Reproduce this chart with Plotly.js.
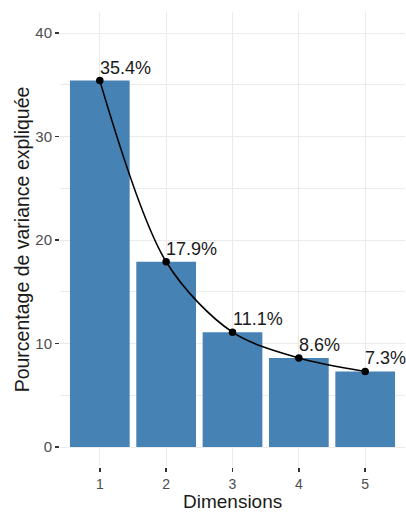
<!DOCTYPE html>
<html>
<head>
<meta charset="utf-8">
<script src="https://cdn.plot.ly/plotly-3.0.1.min.js"></script>
<style>
html,body{margin:0;padding:0;background:#fff;}
#chart{width:406px;height:514px;}
</style>
</head>
<body>
<div id="chart"></div>
<script>
const dimensions = [1, 2, 3, 4, 5];
const variance = [35.4, 17.9, 11.1, 8.6, 7.3];
const labels = ["35.4%", "17.9%", "11.1%", "8.6%", "7.3%"];
const yTicks = [0, 10, 20, 30, 40];
const xTitle = 'Dimensions';
const yTitle = 'Pourcentage de variance expliquée';

const bars = {
  type: 'bar',
  x: dimensions,
  y: variance,
  width: 0.9,
  marker: {color: '#4682B4', line: {width: 0}},
  hoverinfo: 'skip'
};
const line = {
  type: 'scatter',
  mode: 'lines+markers',
  x: dimensions,
  y: variance,
  line: {color: '#000000', width: 1.6, shape: 'spline', smoothing: 0.9},
  marker: {color: '#000000', size: 7.5},
  hoverinfo: 'skip'
};

const annotations = dimensions.map((d, i) => ({
  x: d, y: variance[i], xref: 'x', yref: 'y',
  text: labels[i], showarrow: false,
  xanchor: 'left', yanchor: 'bottom', xshift: -2, yshift: 1,
  font: {family: 'Liberation Sans, Arial, sans-serif', size: 18, color: '#1a1a1a'}
}));
annotations.push({
  x: 0.5, y: 0, xref: 'paper', yref: 'paper',
  text: xTitle, showarrow: false, borderpad: 0,
  xanchor: 'center', yanchor: 'bottom', yshift: -46,
  font: {family: 'Liberation Sans, Arial, sans-serif', size: 19, color: '#1a1a1a'}
});

const layout = {
  width: 406, height: 514,
  margin: {l: 60, r: 1, t: 12, b: 47},
  paper_bgcolor: '#ffffff',
  plot_bgcolor: '#ffffff',
  showlegend: false,
  font: {family: 'Liberation Sans, Arial, sans-serif', color: '#4d4d4d'},
  xaxis: {
    range: [0.4, 5.6],
    tickvals: dimensions,
    ticktext: dimensions.map(String),
    ticks: 'outside', ticklen: 4, tickwidth: 1.5, tickcolor: '#333333',
    showgrid: true, gridcolor: '#ebebeb', gridwidth: 1,
    zeroline: false, showline: false,
    tickfont: {size: 14, color: '#4d4d4d'}
  },
  yaxis: {
    range: [-1.93, 42.03],
    tickvals: yTicks,
    ticks: 'outside', ticklen: 4, tickwidth: 1.5, tickcolor: '#333333',
    showgrid: true, gridcolor: '#ebebeb', gridwidth: 1,
    minor: {dtick: 5, tick0: 0, showgrid: true, gridcolor: '#ebebeb', gridwidth: 1, ticks: ''},
    zeroline: false, showline: false,
    tickfont: {size: 15, color: '#4d4d4d'},
    title: {text: yTitle, font: {size: 19.5, color: '#1a1a1a'}, standoff: 0}
  },
  annotations: annotations
};

Plotly.newPlot('chart', [bars, line], layout, {staticPlot: true, displayModeBar: false});
</script>
</body>
</html>
